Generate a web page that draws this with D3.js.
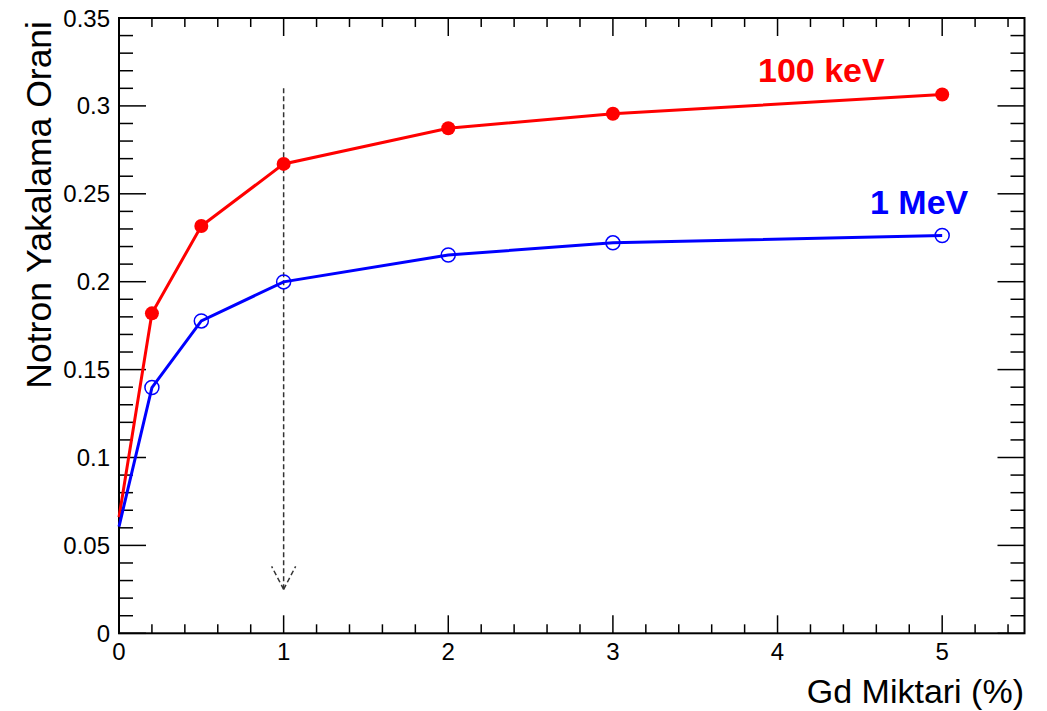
<!DOCTYPE html>
<html><head><meta charset="utf-8">
<script src="https://cdn.jsdelivr.net/npm/d3@7"></script>
<style>body{margin:0;background:#fff}svg{display:block}text{font-family:"Liberation Sans",Arial,Helvetica,sans-serif}</style>
</head><body><svg id="c" width="1047" height="711"></svg>
<script>
const gdPercent = [0, 0.2, 0.5, 1, 2, 3, 5];
const capture100keV = [0.066, 0.182, 0.2317, 0.267, 0.2873, 0.2955, 0.3065];
const capture1MeV = [0.0607, 0.1398, 0.1777, 0.1999, 0.2152, 0.2221, 0.2263];
const xTicks = [0, 1, 2, 3, 4, 5];
const yTicks = [0, 0.05, 0.1, 0.15, 0.2, 0.25, 0.3, 0.35];
const yTickLabels = ["0", "0.05", "0.1", "0.15", "0.2", "0.25", "0.3", "0.35"];
const arrowX = [1, 1];
const arrowY = [0.31, 0.025];

const svg = d3.select("#c");
const L = 119, R = 1024.5, T = 18, B = 633.3;
const x = d3.scaleLinear().domain([0, 5.5]).range([L, R]);
const y = d3.scaleLinear().domain([0, 0.35]).range([B, T]);

const g = svg.append("g");
const xMinor = d3.range(0, 5.5001, 0.2).map(v => +v.toFixed(2));
const yMinor = d3.range(0, 0.3501, 0.01).map(v => +v.toFixed(3));
const tickG = g.append("g").attr("stroke", "#000").attr("stroke-width", 1.5);
xMinor.forEach(v => {
  const major = xTicks.some(t => Math.abs(t - v) < 1e-6);
  const len = major ? 18 : 9;
  tickG.append("line").attr("x1", x(v)).attr("x2", x(v)).attr("y1", B).attr("y2", B - len);
  tickG.append("line").attr("x1", x(v)).attr("x2", x(v)).attr("y1", T).attr("y2", T + len);
});
yMinor.forEach(v => {
  const major = yTicks.some(t => Math.abs(t - v) < 1e-6);
  const len = major ? 27 : 14;
  tickG.append("line").attr("y1", y(v)).attr("y2", y(v)).attr("x1", L).attr("x2", L + len);
  tickG.append("line").attr("y1", y(v)).attr("y2", y(v)).attr("x1", R).attr("x2", R - len);
});
g.append("rect").attr("x", L).attr("y", T).attr("width", R - L).attr("height", B - T)
  .attr("fill", "none").attr("stroke", "#000").attr("stroke-width", 2);

g.selectAll(".xl").data(xTicks).enter().append("text")
  .attr("x", d => x(d)).attr("y", 660).attr("text-anchor", "middle")
  .attr("font-size", 24).text(d => d);
g.selectAll(".yl").data(yTicks).enter().append("text")
  .attr("x", 110).attr("y", d => y(d) + 8.5).attr("text-anchor", "end")
  .attr("font-size", 24).text((d, i) => yTickLabels[i]);

g.append("text").attr("x", 1024).attr("y", 703).attr("text-anchor", "end")
  .attr("font-size", 34).text("Gd Miktari (%)");
g.append("text").attr("transform", "translate(51,21) rotate(-90)").attr("text-anchor", "end")
  .attr("font-size", 35.5).text("Notron Yakalama Orani");

const ax = x(arrowX[0]), ay0 = y(arrowY[0]), ay1 = y(arrowY[1]);
const dash = g.append("g").attr("stroke", "#333").attr("stroke-width", 1.5).attr("stroke-dasharray", "5,3").attr("fill", "none");
dash.append("line").attr("x1", ax).attr("x2", ax).attr("y1", ay0).attr("y2", ay1);
dash.append("line").attr("x1", ax).attr("y1", ay1).attr("x2", ax - 12).attr("y2", ay1 - 23);
dash.append("line").attr("x1", ax).attr("y1", ay1).attr("x2", ax + 12).attr("y2", ay1 - 23);

const line = d3.line().x(d => x(d[0])).y(d => y(d[1]));
const red = gdPercent.map((v, i) => [v, capture100keV[i]]);
const blue = gdPercent.map((v, i) => [v, capture1MeV[i]]);
g.append("path").attr("d", line(red)).attr("fill", "none").attr("stroke", "#ff0000").attr("stroke-width", 3);
g.append("path").attr("d", line(blue)).attr("fill", "none").attr("stroke", "#0000ff").attr("stroke-width", 3);
g.selectAll(".rm").data(red.filter(d => d[0] > 0)).enter().append("circle")
  .attr("cx", d => x(d[0])).attr("cy", d => y(d[1])).attr("r", 7).attr("fill", "#ff0000");
g.selectAll(".bm").data(blue.filter(d => d[0] > 0)).enter().append("circle")
  .attr("cx", d => x(d[0])).attr("cy", d => y(d[1])).attr("r", 7).attr("fill", "none")
  .attr("stroke", "#0000ff").attr("stroke-width", 1.5);

g.append("text").attr("x", 758).attr("y", 81.7).attr("font-size", 34).attr("font-weight", "bold")
  .attr("fill", "#ff0000").text("100 keV");
g.append("text").attr("x", 870).attr("y", 214.3).attr("font-size", 34).attr("font-weight", "bold")
  .attr("fill", "#0000ff").text("1 MeV");
</script></body></html>
